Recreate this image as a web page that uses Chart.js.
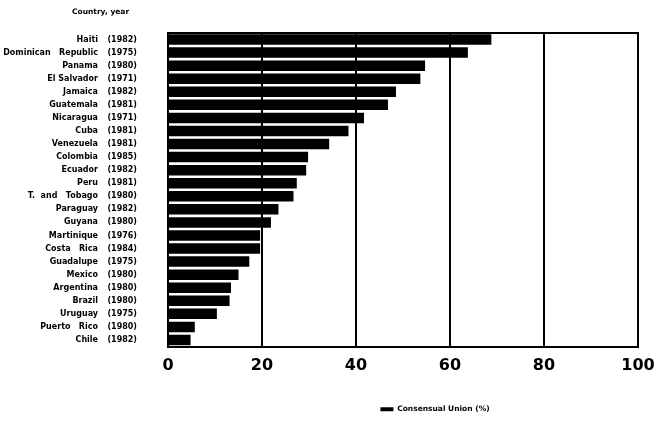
<!DOCTYPE html>
<html>
<head>
<meta charset="utf-8">
<script src="https://cdn.jsdelivr.net/npm/chart.js@4/dist/chart.umd.min.js"></script>
<style>
  body { margin: 0; background: #fff; }
  #wrap { width: 657px; height: 425px; }
</style>
</head>
<body>
<div id="wrap"><canvas id="myChart" width="657" height="425"></canvas></div>
<script>
const countries = ['Haiti', 'Dominican   Republic', 'Panama', 'El Salvador', 'Jamaica', 'Guatemala',
  'Nicaragua', 'Cuba', 'Venezuela', 'Colombia', 'Ecuador', 'Peru', 'T.  and   Tobago', 'Paraguay',
  'Guyana', 'Martinique', 'Costa   Rica', 'Guadalupe', 'Mexico', 'Argentina', 'Brazil', 'Uruguay',
  'Puerto   Rico', 'Chile']
const years = [1982, 1975, 1980, 1971, 1982, 1981, 1971, 1981, 1981, 1985, 1982, 1981, 1980, 1982,
  1980, 1976, 1984, 1975, 1980, 1980, 1980, 1975, 1980, 1982]
const union = [68.8, 63.8, 54.7, 53.7, 48.5, 46.8, 41.7, 38.4, 34.3, 29.8, 29.4, 27.4, 26.7, 23.5,
  21.9, 19.6, 19.6, 17.3, 15.0, 13.4, 13.1, 10.4, 5.7, 4.8]
const xTicks = [0, 20, 40, 60, 80, 100]

const font = 'DejaVu Sans'

// move title and legend to where the original has them
const nudge = {
  id: 'nudge',
  afterLayout(chart){
    chart.titleBlock.left = 72
    chart.legend.left += 116
    chart.legend.right += 116
  }
}

new Chart(document.getElementById('myChart'), {
  type: 'bar',
  data: {
    labels: countries,
    datasets: [{
      label: 'Consensual Union (%)',
      data: union,
      backgroundColor: '#000',
      borderWidth: 0,
      barPercentage: 0.8,
      categoryPercentage: 1
    }]
  },
  plugins: [nudge],
  options: {
    indexAxis: 'y',
    responsive: false,
    animation: false,
    devicePixelRatio: 1,
    layout: { padding: { left: 0, right: 19, top: 0, bottom: 2 } },
    plugins: {
      title: {
        display: true,
        text: 'Country, year',
        align: 'start',
        color: '#000',
        font: { family: font, size: 7.5, weight: 'bold' },
        padding: { top: 7.5, bottom: 16.5 }
      },
      legend: {
        position: 'bottom',
        labels: {
          boxWidth: 13,
          boxHeight: 4,
          padding: 9,
          color: '#000',
          font: { family: font, size: 7.5, weight: 'bold' }
        }
      },
      tooltip: { enabled: false }
    },
    scales: {
      x: {
        min: 0,
        max: 100,
        afterBuildTicks: scale => { scale.ticks = xTicks.map(v => ({ value: v })) },
        grid: { color: '#000', lineWidth: 2, drawTicks: false },
        border: { color: '#000', width: 2 },
        ticks: { color: '#000', padding: 10, font: { family: font, size: 16, weight: 'bold' } },
        afterFit: scale => {
          scale.height = 50
          scale.paddingLeft = 0
          scale.paddingRight = 0
        }
      },
      xTop: {
        type: 'linear',
        position: 'top',
        min: 0,
        max: 100,
        grid: { display: false, drawTicks: false },
        border: { display: true, color: '#000', width: 2 },
        ticks: { display: false }
      },
      y: {
        position: 'left',
        grid: { display: false, drawTicks: false },
        border: { display: true, color: '#000', width: 2 },
        ticks: {
          autoSkip: false,
          color: '#000',
          padding: 31,
          font: { family: font, size: 8, weight: 'bold' },
          callback: (v, i) => '(' + years[i] + ')'
        },
        afterFit: scale => {
          scale.width = 60
          scale.paddingTop = 0
          scale.paddingBottom = 0
        }
      },
      names: {
        type: 'category',
        labels: countries,
        position: 'left',
        weight: 1,
        offset: true,
        grid: { display: false, drawTicks: false },
        border: { display: false },
        ticks: {
          autoSkip: false,
          color: '#000',
          padding: 10,
          font: { family: font, size: 8, weight: 'bold' }
        },
        afterFit: scale => {
          scale.width = 108
          scale.paddingTop = 0
          scale.paddingBottom = 0
        }
      }
    }
  }
})
</script>
</body>
</html>
